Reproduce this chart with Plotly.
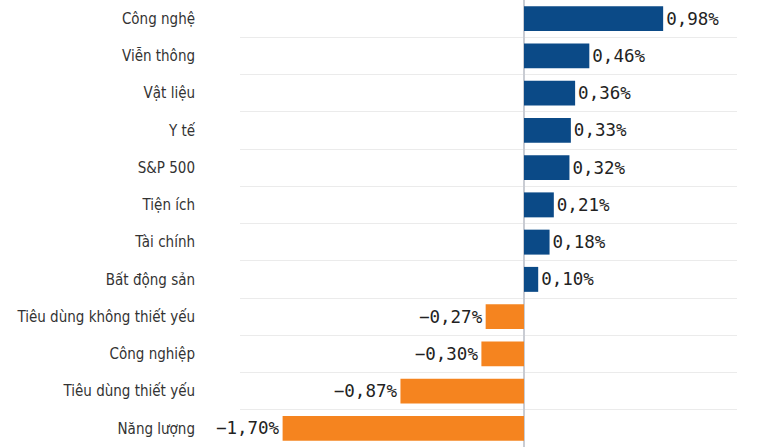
import plotly.graph_objects as go

# Sector performance, top to bottom as shown
sectors = ["Công nghệ", "Viễn thông", "Vật liệu", "Y tế", "S&P 500", "Tiện ích",
           "Tài chính", "Bất động sản", "Tiêu dùng không thiết yếu", "Công nghiệp",
           "Tiêu dùng thiết yếu", "Năng lượng"]
changes = [0.98, 0.46, 0.36, 0.33, 0.32, 0.21, 0.18, 0.10, -0.27, -0.30, -0.87, -1.70]

BLUE = "#0b4a87"
ORANGE = "#f5841f"


def fmt(v):
    return f"{v:.2f}%".replace(".", ",").replace("-", "\u2212")


colors = [BLUE if v >= 0 else ORANGE for v in changes]
labels = [fmt(v) for v in changes]

fig = go.Figure(go.Bar(
    x=changes,
    y=sectors,
    orientation="h",
    marker=dict(color=colors, line=dict(width=0)),
    text=labels,
    textposition="outside",
    constraintext="none",
    textfont=dict(family="DejaVu Sans Mono", size=17.5, color="#222"),
    cliponaxis=False,
    hoverinfo="skip",
))

fig.update_layout(
    width=761,
    height=447,
    margin=dict(l=240, r=24, t=0, b=0),
    paper_bgcolor="white",
    plot_bgcolor="white",
    bargap=0.33,
    showlegend=False,
    xaxis=dict(
        range=[-2, 1.5],
        automargin=False,
        showgrid=False,
        showticklabels=False,
        zeroline=True,
        zerolinecolor="#c9ccd3",
        zerolinewidth=1.5,
    ),
    yaxis=dict(
        type="category",
        autorange="reversed",
        automargin=False,
        tickson="boundaries",
        showgrid=True,
        gridcolor="#ebebeb",
        gridwidth=1,
        ticks="",
        ticklabelstandoff=44,
        tickfont=dict(family="DejaVu Sans Condensed", size=15, color="#333"),
    ),
)

# drop the browser's default body margin so the figure sits at 0,0
fig.write_html("out.html", config={"displayModeBar": False},
               post_script="document.body.style.margin='0';")
